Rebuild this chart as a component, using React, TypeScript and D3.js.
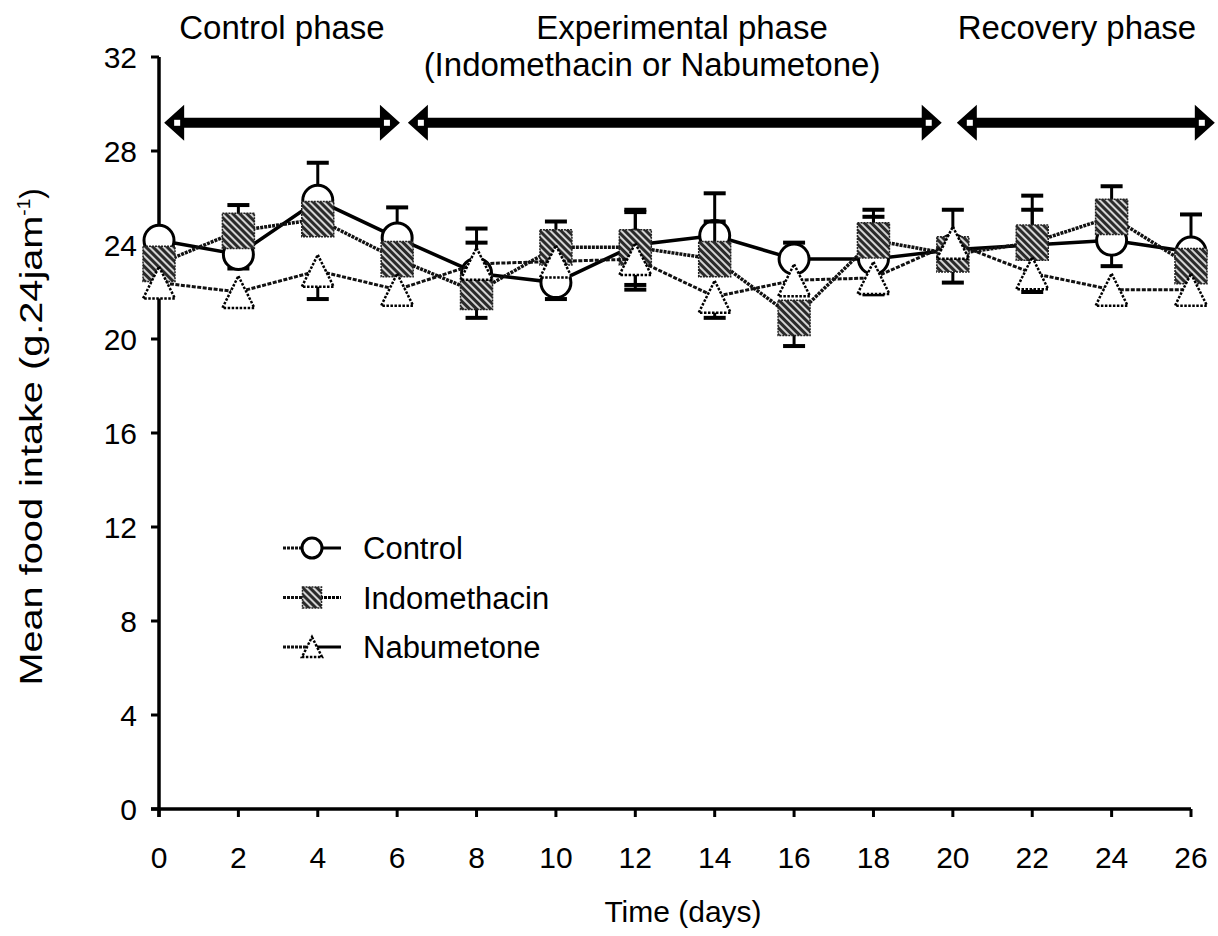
import React from 'react';
import * as d3 from 'd3';

// days sampled
const days = [0, 2, 4, 6, 8, 10, 12, 14, 16, 18, 20, 22, 24, 26];

// mean food intake (g/24h)
const control = [24.2, 23.6, 25.9, 24.3, 22.8, 22.4, 24.0, 24.4, 23.4, 23.4, 23.8, 24.0, 24.2, 23.7];
const indomethacin = [23.2, 24.6, 25.1, 23.4, 22.0, 23.9, 23.9, 23.4, 20.9, 24.2, 23.6, 24.1, 25.2, 23.1];
const nabumetone = [22.4, 22.0, 22.9, 22.1, 23.2, 23.3, 23.4, 21.8, 22.5, 22.6, 24.1, 22.8, 22.1, 22.1];

// visible error bar halves (0 = hidden behind a marker)
const controlUp = [0, 0, 1.6, 1.3, 1.3, 0, 1.4, 1.8, 0.7, 1.8, 0, 1.5, 0, 1.6];
const controlDown = [0, 0.6, 0, 0, 0, 0.7, 0, 0, 0, 0, 0, 0, 1.1, 0];
const indoUp = [0, 1.1, 0, 0, 0, 1.1, 1.6, 1.6, 0, 1.3, 0, 2.0, 1.3, 0];
const indoDown = [0, 0, 0, 0, 1.1, 0, 1.6, 0, 1.2, 0, 1.2, 0, 0, 0];
const nabuUp = [0, 0, 0, 0, 1.5, 0, 0, 0, 0, 0, 1.4, 0, 0, 0];
const nabuDown = [0, 0, 1.2, 0, 0, 0, 1.3, 0.9, 0, 0.7, 0, 0.8, 0, 0];

const yTicks = [0, 4, 8, 12, 16, 20, 24, 28, 32];
const xTicks = [0, 2, 4, 6, 8, 10, 12, 14, 16, 18, 20, 22, 24, 26];

// phase arrows (start day, end day) and titles
const phaseStart = [0.13, 6.27, 20.1];
const phaseEnd = [6.07, 19.72, 26.6];
const phaseLevel = 29.2;
const phaseTitles = ['Control phase', 'Experimental phase', 'Recovery phase'];
const phaseSub = ['', '(Indomethacin or Nabumetone)', ''];
const phaseTitleX = [282, 682, 1077];
const phaseSubX = [0, 652, 0];

const legendNames = ['Control', 'Indomethacin', 'Nabumetone'];

const FONT = '"Liberation Sans", Arial, Helvetica, sans-serif';

const x = d3.scaleLinear().domain([0, 26]).range([159, 1191]);
const y = d3.scaleLinear().domain([0, 32]).range([809, 57]);

const line = d3.line<number>()
  .x((_, i) => x(days[i]))
  .y(d => y(d));

const Circle = ({ cx, cy, r }: { cx: number; cy: number; r: number }) => (
  <circle cx={cx} cy={cy} r={r} fill="#fff" stroke="#000" strokeWidth={3} />
);

const Square = ({ cx, cy, s }: { cx: number; cy: number; s: number }) => (
  <rect x={cx - s / 2} y={cy - s * 0.55} width={s} height={s * 1.1}
    fill="url(#hatch)" stroke="#222" strokeWidth={1.5} strokeDasharray="2,1" />
);

const Triangle = ({ cx, cy, s }: { cx: number; cy: number; s: number }) => (
  <path d={`M${cx},${cy - s / 2}L${cx + s / 2},${cy + s / 2}L${cx - s / 2},${cy + s / 2}Z`}
    fill="#fff" stroke="#000" strokeWidth={2.5} strokeDasharray="2.5,1.5" />
);

const ErrorBars = ({ vals, up, down }: { vals: number[]; up: number[]; down: number[] }) => (
  <g stroke="#000">
    {vals.map((v, i) => {
      const cx = x(days[i]);
      const parts = [];
      if (up[i] > 0) {
        parts.push(<line key={'u' + i} x1={cx} x2={cx} y1={y(v)} y2={y(v + up[i])} strokeWidth={3} />);
        parts.push(<line key={'uc' + i} x1={cx - 11} x2={cx + 11} y1={y(v + up[i])} y2={y(v + up[i])} strokeWidth={4} />);
      }
      if (down[i] > 0) {
        parts.push(<line key={'d' + i} x1={cx} x2={cx} y1={y(v)} y2={y(v - down[i])} strokeWidth={3} />);
        parts.push(<line key={'dc' + i} x1={cx - 11} x2={cx + 11} y1={y(v - down[i])} y2={y(v - down[i])} strokeWidth={4} />);
      }
      return parts;
    })}
  </g>
);

const Arrow = ({ x1, x2, yy }: { x1: number; x2: number; yy: number }) => {
  const hl = 20, hh = 18, sh = 5;
  const d = `M${x1},${yy}L${x1 + hl},${yy - hh}L${x1 + hl},${yy - sh}L${x2 - hl},${yy - sh}L${x2 - hl},${yy - hh}L${x2},${yy}` +
    `L${x2 - hl},${yy + hh}L${x2 - hl},${yy + sh}L${x1 + hl},${yy + sh}L${x1 + hl},${yy + hh}Z`;
  return (
    <g>
      <path d={d} fill="#000" />
      <rect x={x1 + 10} y={yy - 3} width={6} height={6} fill="#fff" />
      <rect x={x2 - 16} y={yy - 3} width={6} height={6} fill="#fff" />
    </g>
  );
};

export default function App() {
  return (
    <svg width={1218} height={936} style={{ position: 'absolute', left: 0, top: 0, background: '#fff' }}
      fontFamily={FONT}>
      <defs>
        <pattern id="hatch" patternUnits="userSpaceOnUse" width={5} height={5} patternTransform="rotate(-45)">
          <rect width={5} height={5} fill="#2a2a2a" />
          <line x1={1} y1={0} x2={1} y2={5} stroke="#fff" strokeWidth={1.6} />
        </pattern>
      </defs>
      <rect width={1218} height={936} fill="#fff" />

      {/* phase titles */}
      {phaseTitles.map((t, i) => (
        <text key={t} x={phaseTitleX[i]} y={39} fontSize={33} textAnchor="middle">{t}</text>
      ))}
      {phaseSub.map((t, i) => t ? (
        <text key={t} x={phaseSubX[i]} y={76} fontSize={33} textAnchor="middle">{t}</text>
      ) : null)}

      {/* phase arrows */}
      {phaseStart.map((s, i) => (
        <Arrow key={i} x1={x(s)} x2={x(phaseEnd[i])} yy={y(phaseLevel)} />
      ))}

      {/* axes */}
      <g stroke="#000" strokeWidth={3.5}>
        <line x1={x(0)} x2={x(0)} y1={y(0) + 8} y2={y(32)} />
        <line x1={x(0) - 8} x2={x(26)} y1={y(0)} y2={y(0)} />
        {yTicks.map(t => (
          <line key={'yt' + t} x1={x(0) - 8} x2={x(0)} y1={y(t)} y2={y(t)} strokeWidth={3} />
        ))}
        {xTicks.map(t => (
          <line key={'xt' + t} x1={x(t)} x2={x(t)} y1={y(0)} y2={y(0) + 8} strokeWidth={3} />
        ))}
      </g>
      {yTicks.map(t => (
        <text key={'yl' + t} x={137} y={y(t)} dy="0.36em" fontSize={30} textAnchor="end">{t}</text>
      ))}
      {xTicks.map(t => (
        <text key={'xl' + t} x={x(t)} y={868} fontSize={30} textAnchor="middle">{t}</text>
      ))}
      <text x={683} y={922} fontSize={30} textAnchor="middle">Time (days)</text>
      <text transform="translate(42,437) rotate(-90)" fontSize={31} textAnchor="middle">
        <tspan textLength={470} lengthAdjust="spacingAndGlyphs">Mean food intake (g.24jam</tspan>
        <tspan dy={-12} fontSize={19}>-1</tspan><tspan dy={12}>)</tspan>
      </text>

      {/* control */}
      <path d={line(control) || ''} fill="none" stroke="#000" strokeWidth={3.5} />
      <ErrorBars vals={control} up={controlUp} down={controlDown} />
      {control.map((v, i) => <Circle key={'c' + i} cx={x(days[i])} cy={y(v)} r={15} />)}

      {/* indomethacin */}
      <path d={line(indomethacin) || ''} fill="none" stroke="#111" strokeWidth={3.5} strokeDasharray="3,1" />
      <ErrorBars vals={indomethacin} up={indoUp} down={indoDown} />
      {indomethacin.map((v, i) => <Square key={'s' + i} cx={x(days[i])} cy={y(v)} s={32} />)}

      {/* nabumetone */}
      <path d={line(nabumetone) || ''} fill="none" stroke="#111" strokeWidth={3} strokeDasharray="4,1.5" />
      <ErrorBars vals={nabumetone} up={nabuUp} down={nabuDown} />
      {nabumetone.map((v, i) => <Triangle key={'t' + i} cx={x(days[i])} cy={y(v)} s={32} />)}

      {/* legend */}
      {legendNames.map((name, i) => {
        const ly = 548 + i * 49.5;
        return (
          <g key={name}>
            <line x1={283} x2={312} y1={ly} y2={ly} stroke="#111" strokeWidth={3} strokeDasharray="3,1" />
            <line x1={312} x2={341} y1={ly} y2={ly} stroke="#000" strokeWidth={3}
              strokeDasharray={i === 1 ? '3,1' : undefined} />
            {i === 0 && <Circle cx={312} cy={ly} r={10} />}
            {i === 1 && <Square cx={312} cy={ly} s={19} />}
            {i === 2 && <Triangle cx={312} cy={ly} s={20} />}
            <text x={363} y={ly} dy="0.36em" fontSize={31}>{name}</text>
          </g>
        );
      })}
    </svg>
  );
}
